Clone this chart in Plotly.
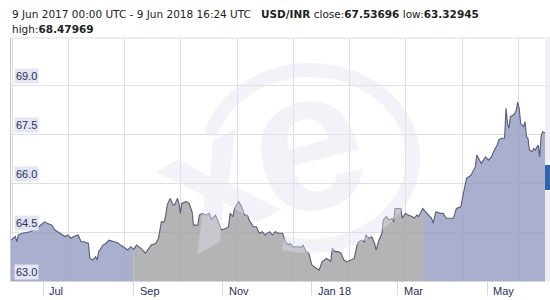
import numpy as np
import plotly.graph_objects as go
import pandas as pd

dates = [
    "2017-06-09", "2017-06-12", "2017-06-13", "2017-06-14", "2017-06-17", "2017-06-22", "2017-06-28",
    "2017-07-02", "2017-07-04", "2017-07-07", "2017-07-09", "2017-07-11", "2017-07-13", "2017-07-16",
    "2017-07-18", "2017-07-20", "2017-07-22", "2017-07-25", "2017-07-27", "2017-07-29", "2017-08-01",
    "2017-08-02", "2017-08-04", "2017-08-06", "2017-08-07", "2017-08-08", "2017-08-11", "2017-08-13",
    "2017-08-15", "2017-08-18", "2017-08-21", "2017-08-23", "2017-08-25", "2017-08-28", "2017-08-30",
    "2017-09-01", "2017-09-03", "2017-09-06", "2017-09-09", "2017-09-13", "2017-09-16", "2017-09-18",
    "2017-09-20", "2017-09-22", "2017-09-23", "2017-09-24", "2017-09-26", "2017-09-28", "2017-09-29",
    "2017-10-01", "2017-10-02", "2017-10-03", "2017-10-04", "2017-10-07", "2017-10-09", "2017-10-11",
    "2017-10-12", "2017-10-15", "2017-10-16", "2017-10-18", "2017-10-20", "2017-10-23", "2017-10-24",
    "2017-10-27", "2017-10-29", "2017-10-31", "2017-11-03", "2017-11-05", "2017-11-06", "2017-11-08",
    "2017-11-09", "2017-11-12", "2017-11-14", "2017-11-16", "2017-11-18", "2017-11-19", "2017-11-22",
    "2017-11-24", "2017-11-26", "2017-11-28", "2017-11-30", "2017-12-03", "2017-12-05", "2017-12-07",
    "2017-12-09", "2017-12-12", "2017-12-14", "2017-12-16", "2017-12-17", "2017-12-19", "2017-12-23",
    "2017-12-25", "2017-12-26", "2017-12-28", "2017-12-30", "2018-01-01", "2018-01-04", "2018-01-06",
    "2018-01-08", "2018-01-11", "2018-01-13", "2018-01-14", "2018-01-15", "2018-01-17", "2018-01-19",
    "2018-01-21", "2018-01-23", "2018-01-25", "2018-01-28", "2018-01-30", "2018-02-01", "2018-02-02",
    "2018-02-04", "2018-02-06", "2018-02-07", "2018-02-09", "2018-02-11", "2018-02-13", "2018-02-14",
    "2018-02-16", "2018-02-18", "2018-02-19", "2018-02-21", "2018-02-23", "2018-02-25", "2018-02-26",
    "2018-02-27", "2018-03-03", "2018-03-04", "2018-03-06", "2018-03-08", "2018-03-11", "2018-03-12",
    "2018-03-14", "2018-03-15", "2018-03-18", "2018-03-20", "2018-03-22", "2018-03-24", "2018-03-25",
    "2018-03-27", "2018-03-30", "2018-04-01", "2018-04-03", "2018-04-06", "2018-04-08", "2018-04-10",
    "2018-04-13", "2018-04-15", "2018-04-17", "2018-04-20", "2018-04-22", "2018-04-23", "2018-04-24",
    "2018-04-26", "2018-04-27", "2018-04-30", "2018-05-02", "2018-05-04", "2018-05-06", "2018-05-08",
    "2018-05-09", "2018-05-11", "2018-05-13", "2018-05-14", "2018-05-15", "2018-05-16", "2018-05-17",
    "2018-05-19", "2018-05-20", "2018-05-21", "2018-05-22", "2018-05-23", "2018-05-24", "2018-05-26",
    "2018-05-27", "2018-05-28", "2018-05-29", "2018-05-30", "2018-06-01", "2018-06-02", "2018-06-03",
    "2018-06-05", "2018-06-06", "2018-06-07", "2018-06-08", "2018-06-09 16:24",
]

rates = [
    64.25, 64.36, 64.20, 64.41, 64.46, 64.51, 64.66,
    64.81, 64.76, 64.71, 64.56, 64.51, 64.46, 64.36,
    64.41, 64.31, 64.36, 64.41, 64.20, 64.20, 64.15,
    63.69, 63.64, 63.74, 63.64, 63.90, 64.10, 64.15,
    64.25, 64.20, 64.17, 64.10, 64.05, 63.95, 64.05,
    63.97, 64.10, 64.00, 63.85, 64.10, 64.15, 64.31,
    64.81, 64.81, 65.02, 65.33, 65.53, 65.33, 65.33,
    65.53, 65.38, 65.07, 65.38, 65.43, 65.38, 65.12,
    64.71, 64.71, 65.02, 65.07, 65.02, 65.07, 64.87,
    65.02, 64.81, 64.56, 64.61, 64.66, 65.07, 64.97,
    65.22, 65.43, 65.27, 65.02, 65.02, 64.87, 64.66,
    64.66, 64.46, 64.51, 64.41, 64.51, 64.41, 64.51,
    64.46, 64.46, 64.20, 64.10, 64.15, 64.05, 64.05,
    64.03, 64.10, 63.90, 63.85, 63.49, 63.39, 63.33,
    63.59, 63.69, 63.64, 63.59, 64.00, 63.90, 63.90,
    63.85, 63.64, 63.59, 63.64, 63.69, 64.10, 64.20,
    64.25, 64.20, 64.41, 64.31, 64.36, 64.15, 63.95,
    64.25, 64.46, 64.87, 64.97, 64.87, 64.92, 64.81,
    65.22, 65.22, 64.92, 65.07, 65.02, 64.97, 64.92,
    65.02, 64.97, 65.22, 65.12, 65.02, 64.92, 64.77,
    65.12, 65.07, 65.07, 64.92, 64.92, 64.92, 65.22,
    65.27, 65.73, 66.14, 66.24, 66.45, 66.50, 66.86,
    66.65, 66.60, 66.80, 66.70, 66.80, 67.01, 67.16,
    67.32, 67.37, 67.37, 68.29, 67.83, 67.67, 68.03,
    68.08, 68.13, 68.23, 68.48, 68.29, 67.83, 67.72,
    67.88, 67.42, 67.37, 67.01, 66.96, 67.06, 67.01,
    67.16, 66.80, 67.42, 67.57, 67.54,
]

highlight_start = "2017-09-01"
highlight_end = "2018-03-18"

y_ticks = [63.0, 64.5, 66.0, 67.5, 69.0]
month_ticks = ["2017-07-01", "2017-09-01", "2017-11-01", "2018-01-01", "2018-03-01", "2018-05-01"]
month_labels = ["Jul", "Sep", "Nov", "Jan 18", "Mar", "May"]

header_line1 = ("9 Jun 2017 00:00 UTC - 9 Jun 2018 16:24 UTC&nbsp;&nbsp;&nbsp;<b>USD/INR</b> "
                "close:<b>67.53696</b> low:<b>63.32945</b>")
header_line2 = "high:<b>68.47969</b>"

df = pd.DataFrame({"date": pd.to_datetime(dates, format="ISO8601"), "rate": rates})
hs, he = pd.Timestamp(highlight_start), pd.Timestamp(highlight_end)
seg_a = df[df.date <= hs]
seg_b = df[(df.date >= hs) & (df.date <= he)]
seg_c = df[df.date >= he]

BLUE_FILL = "rgba(150,157,194,0.82)"
GRAY_FILL = "rgba(163,163,163,0.82)"
LINE = "#565c7c"
NAVY = "#283058"
WM = "rgba(222,226,240,0.42)"

# plot-area geometry helpers (pixel -> paper) for decorations
PL, PW, PB, PH = 11, 534, 281, 243
def px_x(p):
    return (p - PL) / PW
def px_y(p):
    return (PB - p) / PH

fig = go.Figure()
for seg, col in [(seg_a, BLUE_FILL), (seg_b, GRAY_FILL), (seg_c, BLUE_FILL)]:
    fig.add_trace(go.Scatter(x=seg.date, y=seg.rate, mode="lines", line=dict(width=0),
                             fill="tozeroy", fillcolor=col, hoverinfo="skip", showlegend=False))
fig.add_trace(go.Scatter(x=df.date, y=df.rate, mode="lines",
                         line=dict(color=LINE, width=1.1), showlegend=False))

# watermark (xe logo): open ring + letters
t = np.radians(np.linspace(165, -105, 90))
ring_x = 310 + 103 * np.cos(t)
ring_y = 158 - 88 * np.sin(t)
ring_path = "M " + " L ".join(f"{px_x(a):.5f},{px_y(b):.5f}" for a, b in zip(ring_x, ring_y))
fig.add_shape(type="path", path=ring_path, xref="paper", yref="paper",
              line=dict(color=WM, width=14), layer="above")
fig.add_annotation(text="<b>e</b>", xref="paper", yref="paper",
                   x=px_x(305), y=px_y(140), xanchor="center", yanchor="middle",
                   showarrow=False, textangle=-15,
                   font=dict(family="Liberation Sans", size=200, color=WM))
fig.add_annotation(text="<b>x</b>", xref="paper", yref="paper",
                   x=px_x(210), y=px_y(178), xanchor="center", yanchor="middle",
                   showarrow=False, textangle=-28,
                   font=dict(family="Liberation Sans", size=175, color=WM))

# top border line and right side strip
fig.add_shape(type="line", xref="paper", yref="paper", x0=0, x1=1.02, y0=1, y1=1,
              line=dict(color="#dcdce4", width=1))
fig.add_shape(type="rect", xref="paper", yref="paper", x0=1.0, x1=1.02, y0=0, y1=1,
              fillcolor="#eff0f5", line=dict(width=0))
fig.add_shape(type="rect", xref="paper", yref="paper", x0=1.0, x1=1.02,
              y0=px_y(190), y1=px_y(165), fillcolor="#2f63ab", line=dict(width=0))

for v in y_ticks:
    fig.add_annotation(text=f"{v:.1f}", x=0, xref="paper", y=v, yref="y",
                       xanchor="left", yanchor="bottom", xshift=3, yshift=1,
                       showarrow=False, bgcolor="#e3e5f2", borderpad=1,
                       font=dict(family="Liberation Sans", size=11, color=NAVY))

for d, lab in zip(month_ticks, month_labels):
    fig.add_annotation(text=lab, x=d, xref="x", y=0, yref="paper",
                       xanchor="left", yanchor="top", xshift=4, yshift=-2,
                       showarrow=False,
                       font=dict(family="Liberation Sans", size=11, color=NAVY))

fig.add_annotation(text=header_line1, xref="paper", yref="paper", x=px_x(10),
                   y=px_y(14), xanchor="left", yanchor="middle", showarrow=False,
                   font=dict(family="DejaVu Sans", size=10.5, color="#222222"))
fig.add_annotation(text=header_line2, xref="paper", yref="paper", x=px_x(10),
                   y=px_y(29), xanchor="left", yanchor="middle", showarrow=False,
                   font=dict(family="DejaVu Sans", size=10.5, color="#222222"))

fig.update_layout(
    width=550, height=300,
    margin=dict(l=11, r=5, t=38, b=19),
    paper_bgcolor="white", plot_bgcolor="white",
    xaxis=dict(range=["2017-06-09", "2018-06-09 16:24"], type="date",
               tickmode="array", tickvals=month_ticks, showticklabels=False,
               ticks="outside", ticklen=13, tickcolor="#d4d6e0", tickwidth=1,
               showgrid=False, showline=True, linecolor="#d4d6e0", linewidth=1,
               zeroline=False, fixedrange=True,
               minor=dict(tick0="2017-06-09 17:00", dtick=38.52 * 86400000,
                          showgrid=True, gridcolor="#dedee3", gridwidth=1, ticks="")),
    yaxis=dict(range=[63.0, 70.44], tickmode="array", tickvals=y_ticks,
               showticklabels=False, showgrid=True, gridcolor="#dedee3", gridwidth=1,
               showline=True, linecolor="#c8cad8", linewidth=1, zeroline=False, ticks=""),
)

fig.write_html("out.html")
